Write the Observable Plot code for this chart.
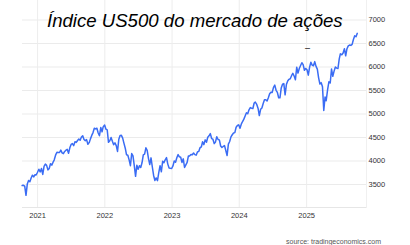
<!DOCTYPE html>
<html><head><meta charset="utf-8">
<script src="https://cdn.jsdelivr.net/npm/d3@7"></script>
<script src="https://cdn.jsdelivr.net/npm/@observablehq/plot@0.6"></script>
<style>
html,body{margin:0;padding:0;background:#fff;}
#wrap{position:relative;width:410px;height:245px;overflow:hidden;}
#title{position:absolute;left:47px;top:12px;font:italic 18.6px "Liberation Sans",Arial,sans-serif;line-height:1;color:#000;white-space:nowrap;}
#dash{position:absolute;left:305px;top:44px;font:9px "Liberation Sans",Arial,sans-serif;line-height:1;color:#000;}
#source{position:absolute;right:29px;top:237.6px;font:7px "Liberation Sans",Arial,sans-serif;line-height:1;color:#555;white-space:nowrap;}
</style></head><body>
<div id="wrap"></div>
<script>
const titleText = "Índice US500 do mercado de ações";
const sourceText = "source: tradingeconomics.com";
const yearTicks = ["2021","2022","2023","2024","2025"];
const valueTicks = [3500,4000,4500,5000,5500,6000,6500,7000];

const dates = [
"2020-10-09","2020-10-16","2020-10-23","2020-10-30","2020-11-06","2020-11-13","2020-11-20","2020-11-27","2020-12-04","2020-12-11","2020-12-18","2020-12-24","2020-12-31",
"2021-01-08","2021-01-15","2021-01-22","2021-01-29","2021-02-05","2021-02-12","2021-02-19","2021-02-26","2021-03-05","2021-03-12","2021-03-19","2021-03-26","2021-04-01","2021-04-09","2021-04-16","2021-04-23","2021-04-30","2021-05-07","2021-05-14","2021-05-21","2021-05-28","2021-06-04","2021-06-11","2021-06-18","2021-06-25","2021-07-02","2021-07-09","2021-07-16","2021-07-23","2021-07-30","2021-08-06","2021-08-13","2021-08-20","2021-08-27","2021-09-03","2021-09-10","2021-09-17","2021-09-24","2021-10-01","2021-10-08","2021-10-15","2021-10-22","2021-10-29","2021-11-05","2021-11-12","2021-11-19","2021-11-26","2021-12-03","2021-12-10","2021-12-17","2021-12-23","2021-12-31",
"2022-01-07","2022-01-14","2022-01-21","2022-01-28","2022-02-04","2022-02-11","2022-02-18","2022-02-25","2022-03-04","2022-03-11","2022-03-18","2022-03-25","2022-04-01","2022-04-08","2022-04-14","2022-04-22","2022-04-29","2022-05-06","2022-05-13","2022-05-20","2022-05-27","2022-06-03","2022-06-10","2022-06-17","2022-06-24","2022-07-01","2022-07-08","2022-07-15","2022-07-22","2022-07-29","2022-08-05","2022-08-12","2022-08-19","2022-08-26","2022-09-02","2022-09-09","2022-09-16","2022-09-23","2022-09-30","2022-10-07","2022-10-14","2022-10-21","2022-10-28","2022-11-04","2022-11-11","2022-11-18","2022-11-25","2022-12-02","2022-12-09","2022-12-16","2022-12-23","2022-12-30",
"2023-01-06","2023-01-13","2023-01-20","2023-01-27","2023-02-03","2023-02-10","2023-02-17","2023-02-24","2023-03-03","2023-03-10","2023-03-17","2023-03-24","2023-03-31","2023-04-06","2023-04-14","2023-04-21","2023-04-28","2023-05-05","2023-05-12","2023-05-19","2023-05-26","2023-06-02","2023-06-09","2023-06-16","2023-06-23","2023-06-30","2023-07-07","2023-07-14","2023-07-21","2023-07-28","2023-08-04","2023-08-11","2023-08-18","2023-08-25","2023-09-01","2023-09-08","2023-09-15","2023-09-22","2023-09-29","2023-10-06","2023-10-13","2023-10-20","2023-10-27","2023-11-03","2023-11-10","2023-11-17","2023-11-24","2023-12-01","2023-12-08","2023-12-15","2023-12-22","2023-12-29",
"2024-01-05","2024-01-12","2024-01-19","2024-01-26","2024-02-02","2024-02-09","2024-02-16","2024-02-23","2024-03-01","2024-03-08","2024-03-15","2024-03-22","2024-03-28","2024-04-05","2024-04-12","2024-04-19","2024-04-26","2024-05-03","2024-05-10","2024-05-17","2024-05-24","2024-05-31","2024-06-07","2024-06-14","2024-06-21","2024-06-28","2024-07-05","2024-07-12","2024-07-19","2024-07-26","2024-08-02","2024-08-09","2024-08-16","2024-08-23","2024-08-30","2024-09-06","2024-09-13","2024-09-20","2024-09-27","2024-10-04","2024-10-11","2024-10-18","2024-10-25","2024-11-01","2024-11-08","2024-11-15","2024-11-22","2024-11-29","2024-12-06","2024-12-13","2024-12-20","2024-12-27",
"2025-01-03","2025-01-10","2025-01-17","2025-01-24","2025-01-31","2025-02-07","2025-02-14","2025-02-21","2025-02-28","2025-03-07","2025-03-14","2025-03-21","2025-03-28","2025-04-04","2025-04-11","2025-04-17","2025-04-25","2025-05-02","2025-05-09","2025-05-16","2025-05-23","2025-05-30","2025-06-06","2025-06-13","2025-06-20","2025-06-27","2025-07-03","2025-07-11","2025-07-18","2025-07-25","2025-08-01","2025-08-08","2025-08-15","2025-08-22","2025-08-29","2025-09-05","2025-09-12","2025-09-19","2025-09-26","2025-10-03"
];
const values = [
3477,3484,3465,3270,3510,3585,3558,3638,3699,3663,3709,3703,3756,
3825,3768,3841,3714,3887,3934,3907,3811,3842,3943,3913,3975,4020,4129,4185,4180,4181,4233,4174,4156,4204,4230,4247,4166,4281,4352,4370,4327,4412,4395,4437,4468,4442,4509,4535,4459,4433,4455,4357,4391,4471,4545,4605,4697,4683,4698,4595,4538,4712,4620,4726,4766,
4677,4663,4398,4432,4501,4419,4349,4385,4329,4204,4463,4543,4546,4488,4392,4272,4132,4123,4024,3901,4158,4109,3901,3675,3912,3825,3899,3863,3962,4130,4145,4280,4228,4058,3924,4067,3873,3693,3586,3640,3583,3753,3901,3771,3993,3965,4026,4072,3934,3852,3845,3840,
3895,3999,3973,4071,4136,4090,4079,3970,4046,3862,3917,3971,4109,4105,4138,4133,4169,4136,4124,4192,4205,4282,4299,4410,4348,4450,4399,4505,4536,4582,4478,4464,4370,4406,4516,4457,4450,4320,4288,4309,4327,4224,4117,4358,4415,4514,4559,4595,4604,4719,4755,4770,
4697,4784,4840,4891,4959,5027,5006,5089,5137,5124,5117,5234,5254,5204,5123,4967,5100,5128,5223,5303,5305,5278,5347,5431,5465,5460,5567,5615,5505,5459,5346,5344,5554,5634,5648,5408,5626,5703,5738,5751,5815,5865,5808,5729,5995,5870,5969,6032,6090,6051,5931,5970,
5942,5827,5997,6101,6041,6026,6115,6013,5955,5770,5639,5667,5581,5074,5363,5283,5525,5687,5660,5958,5803,5912,6000,5977,5968,6173,6280,6260,6297,6389,6238,6389,6450,6467,6460,6482,6584,6664,6644,6716
];

const data = dates.map((d, i) => ({date: new Date(d), value: values[i]}));
const yearDates = yearTicks.map(y => new Date(`${y}-01-01`));
const font = '"Liberation Sans", Arial, sans-serif';

const chart = Plot.plot({
  width: 410,
  height: 245,
  marginLeft: 22,
  marginRight: 44,
  marginTop: 0,
  marginBottom: 38,
  style: {fontFamily: font, fontSize: "7.5px", color: "#333", background: "#fff"},
  x: {type: "utc", domain: [new Date("2020-10-11"), new Date("2025-11-22")]},
  y: {domain: [3011, 7415]},
  marks: [
    Plot.gridY(valueTicks, {stroke: "#ebebeb", strokeOpacity: 1}),
    Plot.gridX(yearDates, {stroke: "#ededed", strokeOpacity: 1}),
    Plot.frame({anchor: "bottom", stroke: "#e6e6e6"}),
    Plot.frame({anchor: "right", stroke: "#f0f0f0"}),
    Plot.axisY(valueTicks, {anchor: "right", tickSize: 0, tickPadding: 2, label: null, fill: "#333", tickFormat: d => String(d)}),
    Plot.axisX(yearDates, {anchor: "bottom", tickSize: 0, tickPadding: 5, label: null, fill: "#333", tickFormat: d => String(d.getUTCFullYear())}),
    Plot.line(data, {x: "date", y: "value", stroke: "#3a6cf4", strokeWidth: 1.5, curve: "linear"})
  ]
});

const wrap = document.getElementById("wrap");
wrap.appendChild(chart);
const t = document.createElement("div"); t.id = "title"; t.textContent = titleText; wrap.appendChild(t);
const dsh = document.createElement("div"); dsh.id = "dash"; dsh.textContent = "–"; wrap.appendChild(dsh);
const s = document.createElement("div"); s.id = "source"; s.textContent = sourceText; wrap.appendChild(s);
</script>
</body></html>
